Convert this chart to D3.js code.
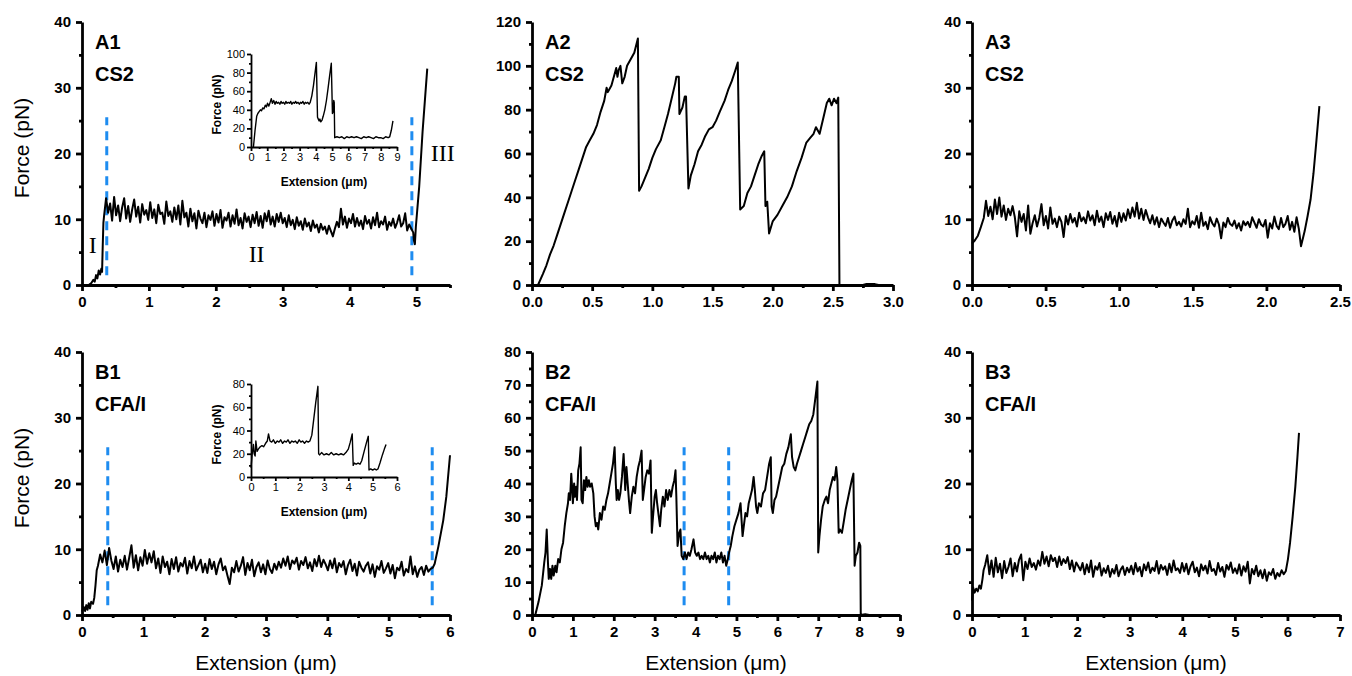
<!DOCTYPE html>
<html><head><meta charset="utf-8">
<script src="https://cdn.jsdelivr.net/npm/d3@7"></script>
<style>
body{margin:0;background:#fff;}
svg text{font-family:"Liberation Sans",Arial,sans-serif;}
</style></head><body>
<script>
// ---- A1 : CS2, main trace (pre-rise, plateau samples, final rise)
let a1Pre = [[0.10,0],[0.14,0.3],[0.17,0.8],[0.19,0.5],[0.21,1.5],[0.23,1.0],[0.25,2.2],[0.27,1.6],[0.29,2.5],[0.30,2.0],[0.31,6],[0.32,9.5]];
let a1Range = [0.33, 4.95];
let a1Plateau = [10.5,13.2,11.0,
 12.4,9.8,13.4,10.6,12.1,9.7,11.8,13.2,10.1,12.0,9.6,11.5,13.0,10.4,11.9,9.5,12.3,10.7,11.4,9.9,
 12.6,10.2,11.5,9.4,12.2,10.8,11.0,9.3,12.7,10.5,11.2,9.6,11.8,10.0,12.1,9.2,
 12.8,10.3,11.0,8.9,11.6,9.7,10.9,8.6,11.3,10.1,9.4,11.0,8.8,10.6,9.9,11.2,9.0,
 10.8,9.5,11.4,8.7,10.3,9.8,11.0,8.9,10.6,9.3,11.5,9.1,10.2,8.6,10.9,9.6,10.4,
 8.8,10.7,9.4,11.1,9.0,10.5,8.7,10.9,9.7,11.3,9.2,10.4,8.9,10.8,9.6,11.0,9.4,
 10.2,8.8,10.6,9.1,9.9,8.5,10.3,9.0,9.7,8.4,10.1,8.9,9.5,8.2,9.8,8.7,9.2,
 8.0,9.3,8.4,8.9,7.8,9.0,8.2,7.4,8.6,9.6,
 8.8,11.6,9.2,10.4,8.7,10.1,9.4,10.8,8.9,
 10.2,9.0,9.8,8.5,10.5,9.3,9.9,8.6,10.3,9.1,11.0,8.8,9.7,9.2,10.4,8.4,9.6,9.0,10.1,8.7,9.5,10.6,8.9,9.4,10.9,8.3,9.2,8.6,8.0];
let a1Post = [[4.96,6.8],[4.975,6.2],[4.99,8.9],[5.04,15],[5.09,23.3],[5.16,32.9]];
let a1Dash = [0.37, 4.93];
let a1Roman = [["I",0.16,6.1],["II",2.61,4.7],["III",5.39,20.2]];

// A1 inset
let a1Inset = [[0.15,0],[0.25,18],[0.35,33],[0.42,36],[0.5,38],[0.58,40],[0.65,39],[0.72,42],[0.8,41],[0.88,45],[0.95,43],[1.02,47],[1.1,44],[1.18,48],[1.25,52],[1.32,47],[1.4,50],[1.48,46],[1.55,49],[1.62,47],[1.7,48],[1.78,46],[1.85,49],[1.92,47],[2.0,48],[2.08,46],[2.15,49],[2.22,47],[2.3,48],[2.38,47],[2.45,49],[2.52,46],[2.6,48],[2.68,47],[2.75,49],[2.82,47],[2.9,48],[2.98,46],[3.05,48],[3.12,47],[3.2,49],[3.28,46],[3.35,48],[3.42,47],[3.5,48],[3.58,46],[3.65,48],[3.75,55],[3.85,66],[3.95,80],[4.03,91],[4.1,32],[4.15,30],[4.2,28],[4.25,30],[4.3,27],[4.38,29],[4.45,33],[4.55,40],[4.65,50],[4.75,63],[4.85,77],[4.95,90],[5.02,36],[5.07,38],[5.1,50],[5.13,48],[5.16,10],[5.3,11],[5.45,10],[5.6,11],[5.75,9],[5.9,11],[6.05,10],[6.2,11],[6.35,10],[6.5,11],[6.65,10],[6.8,9],[6.95,11],[7.1,10],[7.25,11],[7.4,10],[7.55,9],[7.7,11],[7.85,10],[8.0,10],[8.15,9],[8.3,11],[8.45,10],[8.55,11],[8.65,18],[8.75,28]];

// ---- A2 : CS2
let a2Trace = [[0.05,0],[0.09,5],[0.12,9],[0.15,14],[0.18,18],[0.21,23],[0.24,28],[0.27,33],[0.3,38],[0.33,43],[0.36,48],[0.39,53],[0.42,58],[0.45,63],[0.48,66],[0.51,69],[0.54,73],[0.57,79],[0.6,84],[0.62,90],[0.63,88],[0.66,91],[0.69,97],[0.7,99],[0.71,95],[0.72,98],[0.735,100],[0.75,92],[0.77,95],[0.79,100],[0.82,103],[0.85,106],[0.88,112.5],[0.89,43],[0.91,45],[0.94,49],[0.97,53],[1.0,58],[1.03,62],[1.07,66],[1.1,72],[1.13,78],[1.16,85],[1.19,92],[1.2,95],[1.22,95],[1.225,78],[1.25,81],[1.27,86],[1.28,86],[1.3,44],[1.32,50],[1.35,55],[1.38,61],[1.41,64],[1.44,68],[1.47,71],[1.5,72],[1.53,75],[1.56,79],[1.6,84],[1.63,89],[1.66,93],[1.69,98],[1.71,101.5],[1.73,34.5],[1.76,36],[1.79,42],[1.82,45],[1.85,50],[1.88,55],[1.91,59],[1.93,61],[1.94,36],[1.955,38],[1.97,23.5],[2.0,29],[2.04,32],[2.08,36],[2.12,40],[2.16,45],[2.2,52],[2.24,58],[2.28,65],[2.31,67],[2.34,69],[2.36,72],[2.39,69],[2.42,76],[2.45,83],[2.47,85],[2.49,82],[2.51,85],[2.53,83],[2.545,85.5],[2.555,0],[2.75,0],[2.78,0.5],[2.85,0.4],[2.88,0]];

// ---- A3 : CS2
let a3Pre = [[0,6.3],[0.02,6.8],[0.04,7.5],[0.06,8.8]];
let a3Range = [0.08, 2.22];
let a3Plateau = [10.2,12.8,10.5,11.9,10.0,13.0,10.8,13.3,10.4,12.1,9.9,11.6,10.6,12.0,10.3,
 7.4,11.2,9.6,10.8,8.3,12.1,7.8,9.4,10.6,8.9,10.2,12.3,9.1,10.5,8.6,11.8,9.3,10.1,8.8,10.4,
 9.6,7.3,10.5,9.2,10.8,9.5,10.2,8.9,11.0,9.7,10.3,9.4,11.2,9.8,10.6,9.1,11.3,9.6,10.4,8.8,10.9,9.9,11.1,9.3,10.5,8.9,11.0,
 9.6,10.9,9.8,11.5,10.2,11.8,10.4,12.5,10.1,11.6,9.9,11.4,10.3,
 9.4,10.6,9.2,10.3,8.8,10.1,9.5,9.0,10.2,8.7,9.8,10.4,9.1,9.6,8.9,10.0,9.3,11.6,8.8,9.7,
 9.2,10.5,8.7,11.0,9.0,9.6,8.5,10.3,9.4,8.9,10.1,9.2,7.1,9.5,8.8,10.2,9.3,9.0,9.8,8.6,9.4,8.3,9.7,9.1,9.6,8.8,10.3,9.5,8.7,10.0,9.2,8.9,9.9,7.2,9.4,8.6,10.4,9.0,8.5,10.2,8.8,9.3,10.5,8.4,9.6,8.1,10.3,8.6];
let a3Post = [[2.235,5.9],[2.26,8.2],[2.28,10.5],[2.3,13],[2.32,17],[2.34,22],[2.36,27.2]];

// ---- B1 : CFA/I
let b1Pre = [[0,0.5],[0.03,1.2],[0.05,0.6],[0.07,1.5],[0.09,0.8],[0.11,1.8],[0.13,1.0],[0.15,2.0],[0.18,1.7],[0.2,2.6],[0.22,4.5],[0.24,6.8]];
let b1Range = [0.26, 5.72];
let b1Plateau = [7.5,9.2,8.0,9.8,7.6,10.2,8.3,
 7.0,8.9,6.6,8.4,7.3,9.0,6.9,
 8.7,10.6,7.2,9.1,6.8,8.8,7.5,9.9,7.8,9.4,8.0,9.7,
 7.1,8.6,6.4,8.9,7.3,8.1,6.2,8.5,7.0,8.8,6.6,7.9,7.4,8.7,6.3,8.2,7.1,8.9,6.8,7.6,8.4,6.5,
 7.8,6.4,8.5,7.0,8.1,6.2,7.7,8.6,6.8,7.4,6.0,4.7,7.2,6.5,
 8.2,6.6,7.5,8.8,6.1,7.9,6.8,8.4,5.9,7.3,8.0,6.5,7.7,6.2,8.3,7.0,6.4,7.8,6.9,
 8.1,7.2,8.6,7.5,8.9,7.0,8.3,7.8,8.7,6.9,8.2,7.6,8.8,7.1,8.0,6.7,8.5,7.4,9.0,7.3,8.4,7.7,
 6.8,8.3,7.1,8.6,6.5,7.9,7.3,8.2,6.2,7.6,8.4,6.7,7.8,6.0,8.1,7.2,6.6,7.5,8.0,6.3,7.7,5.8,7.4,6.9,8.2,6.4,7.1,7.9,
 6.3,7.6,5.6,7.2,6.8,8.1,6.0,7.0,6.5,8.9,6.2,7.4,5.8,6.9,7.3,6.1,7.5,6.6,7.0,7.2];
let b1Post = [[5.75,7.8],[5.81,10.4],[5.89,14.4],[5.94,18],[6.0,24.3]];
let b1Dash = [0.42, 5.71];

// B1 inset
let b1Inset = [[0.0,8],[0.05,20],[0.1,28],[0.13,20],[0.17,18],[0.2,31],[0.25,22],[0.3,24],[0.38,26],[0.45,27],[0.52,26],[0.6,29],[0.67,31],[0.72,37],[0.78,31],[0.85,30],[0.92,32],[1.0,29],[1.08,31],[1.15,30],[1.22,32],[1.3,29],[1.38,31],[1.45,30],[1.52,32],[1.6,29],[1.68,31],[1.75,30],[1.82,31],[1.9,29],[1.98,32],[2.05,30],[2.12,31],[2.2,29],[2.28,31],[2.35,30],[2.42,31],[2.5,36],[2.58,50],[2.66,64],[2.75,78],[2.78,20],[2.82,19],[2.9,21],[3.0,19],[3.1,20],[3.2,19],[3.3,21],[3.4,19],[3.5,20],[3.6,19],[3.7,20],[3.8,19],[3.9,21],[4.0,24],[4.08,30],[4.16,37],[4.2,10],[4.25,12],[4.32,11],[4.4,12],[4.48,11],[4.55,14],[4.65,22],[4.75,30],[4.82,35],[4.85,6],[4.92,7],[5.0,6],[5.08,7],[5.15,6],[5.22,7],[5.3,12],[5.4,19],[5.48,24],[5.55,28]];

// ---- B2 : CFA/I
let b2Trace = [[0.08,0],[0.16,4],[0.24,9],[0.3,16],[0.33,19],[0.36,26],[0.39,16],[0.41,11],[0.44,14],[0.47,11],[0.5,15],[0.53,12],[0.57,15],[0.6,13],[0.64,17],[0.68,16],[0.72,20],[0.76,22],[0.8,27],[0.84,31],[0.88,34],[0.9,37],[0.93,35],[0.96,43],[0.98,39],[1.0,34],[1.03,40],[1.05,36],[1.08,39],[1.1,35],[1.13,44],[1.16,46],[1.19,51],[1.21,35],[1.24,34],[1.27,41],[1.3,38],[1.33,42],[1.36,39],[1.39,41],[1.42,39],[1.46,40],[1.5,37],[1.53,30],[1.56,27],[1.59,28],[1.62,26],[1.66,31],[1.7,29],[1.74,33],[1.78,32],[1.82,35],[1.86,37],[1.9,40],[1.94,43],[1.98,46],[2.02,51],[2.05,40],[2.07,35],[2.1,38],[2.13,35],[2.16,37],[2.2,42],[2.24,49],[2.26,44],[2.28,38],[2.31,45],[2.34,40],[2.37,35],[2.4,31],[2.44,36],[2.48,39],[2.52,37],[2.56,42],[2.6,45],[2.64,47],[2.68,50],[2.71,35],[2.74,38],[2.78,42],[2.82,44],[2.86,43],[2.9,47],[2.93,25],[2.96,30],[3.0,36],[3.03,38],[3.06,34],[3.1,30],[3.13,27],[3.16,32],[3.2,36],[3.24,33],[3.28,38],[3.32,35],[3.36,38],[3.4,36],[3.44,39],[3.48,41],[3.51,44],[3.53,36],[3.56,21],[3.6,25],[3.63,26],[3.66,18],[3.7,17],[3.74,19],[3.78,17],[3.82,19],[3.86,18],[3.9,20],[3.95,23],[3.99,19],[4.03,18],[4.07,19],[4.11,17],[4.15,18],[4.19,17],[4.23,19],[4.27,17],[4.31,18],[4.35,16],[4.39,18],[4.43,17],[4.47,19],[4.51,16],[4.55,18],[4.59,17],[4.63,19],[4.67,16],[4.71,18],[4.75,15],[4.79,17],[4.82,19],[4.86,21],[4.9,24],[4.95,27],[5.0,29],[5.05,31],[5.1,34],[5.13,28],[5.15,24],[5.18,27],[5.22,31],[5.26,30],[5.3,34],[5.34,36],[5.38,38],[5.42,42],[5.45,38],[5.48,33],[5.51,31],[5.55,34],[5.6,33],[5.65,37],[5.7,38],[5.75,42],[5.8,46],[5.84,48],[5.86,33],[5.89,31],[5.93,35],[5.97,36],[6.02,39],[6.07,42],[6.12,45],[6.17,46],[6.22,49],[6.27,51],[6.33,55],[6.36,48],[6.4,45],[6.44,44],[6.48,46],[6.53,48],[6.58,50],[6.63,52],[6.68,54],[6.73,56],[6.78,58],[6.83,59],[6.88,61],[6.93,66],[6.98,71],[7.0,19],[7.03,24],[7.07,29],[7.11,33],[7.16,35],[7.2,36],[7.24,34],[7.28,38],[7.32,40],[7.36,42],[7.4,41],[7.44,45],[7.47,41],[7.5,25],[7.53,26],[7.58,25],[7.62,28],[7.67,32],[7.72,35],[7.77,38],[7.82,41],[7.86,43],[7.89,15],[7.92,18],[7.96,19],[8.0,22],[8.03,21],[8.04,0],[8.15,0.2],[8.25,0]];
let b2Dash = [3.72, 4.81];

// ---- B3 : CFA/I
let b3Pre = [[0,2.2],[0.02,4.2],[0.05,3.4],[0.08,4.0],[0.11,3.6],[0.14,4.5],[0.17,4.0],[0.2,5.5],[0.22,6.8]];
let b3Range = [0.25, 5.97];
let b3Plateau = [7.6,9.1,6.2,8.3,5.8,8.7,6.5,
 7.8,5.6,8.2,6.4,7.3,8.6,5.9,7.9,6.6,8.4,9.2,5.3,
 8.1,7.0,8.6,7.3,7.9,6.9,8.3,7.5,
 9.6,7.8,8.9,7.4,9.1,8.2,8.7,7.3,8.9,7.6,8.5,7.9,
 8.8,7.0,8.3,6.6,8.0,7.4,6.8,7.9,
 6.2,7.7,6.5,8.3,5.8,7.4,6.9,7.9,6.0,7.1,
 6.4,7.5,5.8,7.0,6.3,7.6,5.9,6.9,7.4,6.1,7.2,6.5,
 7.5,6.2,7.9,6.6,7.3,5.9,7.7,6.8,8.0,6.4,7.2,6.7,8.2,6.3,7.6,6.9,7.4,6.1,7.8,6.5,8.3,6.8,7.1,6.4,7.9,
 6.6,7.8,6.2,7.4,8.1,6.5,7.2,5.9,7.7,6.8,7.5,6.3,8.2,6.7,7.0,6.1,7.9,6.6,7.3,5.8,7.6,6.9,8.0,6.4,7.1,
 6.3,7.7,6.0,7.4,6.6,8.1,4.8,7.0,6.2,7.5,5.9,6.8,
 5.6,6.9,5.2,6.5,6.1,7.0,5.5,6.4,5.9,6.8,6.2,6.7];
let b3Post = [[6.01,8.5],[6.05,11],[6.1,15],[6.15,19.5],[6.19,24],[6.22,27.7]];

// tick values
let ticks10 = [0,10,20,30,40];
let a1XTicks = [0,1,2,3,4,5], a2YTicks = [0,20,40,60,80,100,120];
let halfTicks = [0,0.5,1.0,1.5,2.0,2.5], a2XTicks = [0,0.5,1.0,1.5,2.0,2.5,3.0];
let b1XTicks = [0,1,2,3,4,5,6], b2XTicks = [0,1,2,3,4,5,6,7,8,9], b2YTicks = [0,10,20,30,40,50,60,70,80];
let b3XTicks = [0,1,2,3,4,5,6,7];
let inA1X = [0,1,2,3,4,5,6,7,8,9], inA1Y = [0,20,40,60,80,100];
let inB1X = [0,1,2,3,4,5,6], inB1Y = [0,20,40,60,80];

const W = 1352, H = 676;
var svg = d3.select("body").append("svg").attr("width", W).attr("height", H);

function series(pre, vals, range, post) {
  var pts = pre.slice(), n = vals.length;
  vals.forEach(function(v, i) { pts.push([range[0] + (range[1] - range[0]) * i / (n - 1), v]) });
  return pts.concat(post);
}

function midpoints(t, max) {
  var step = t[1] - t[0], out = [];
  for (var v = t[0] + step / 2; v <= max + 1e-9; v += step) out.push(v);
  return out;
}

function panel(o) {
  var x = d3.scaleLinear().domain(o.xd).range(o.xr),
      y = d3.scaleLinear().domain(o.yd).range(o.yr);
  var ins = !!o.inset;
  var fs = ins ? 11 : 15, big = ins ? 4 : 6, small = ins ? 2 : 3, sw = ins ? 1.8 : 2.8;
  var fmt = o.fmt || d3.format("d");

  var xMin = svg.append("g").attr("transform", "translate(0," + o.yr[0] + ")")
    .call(d3.axisBottom(x).tickValues(midpoints(o.xt, o.xd[1])).tickSize(small).tickFormat(""));
  xMin.select(".domain").remove();
  var yMin = svg.append("g").attr("transform", "translate(" + o.xr[0] + ",0)")
    .call(d3.axisLeft(y).tickValues(midpoints(o.yt, o.yd[1] - 0.001)).tickSize(small).tickFormat(""));
  yMin.select(".domain").remove();

  var xa = svg.append("g").attr("transform", "translate(0," + o.yr[0] + ")")
    .call(d3.axisBottom(x).tickValues(o.xt).tickSize(big).tickSizeOuter(0).tickPadding(ins ? 2 : 5).tickFormat(fmt));
  var ya = svg.append("g").attr("transform", "translate(" + o.xr[0] + ",0)")
    .call(d3.axisLeft(y).tickValues(o.yt).tickSize(big).tickSizeOuter(0).tickPadding(ins ? 2 : 5).tickFormat(d3.format("d")));
  [xa, ya, xMin, yMin].forEach(function(a) {
    a.attr("stroke-width", sw).attr("font-size", fs).attr("font-family", "Liberation Sans, Arial, sans-serif")
     .attr("font-weight", ins ? "normal" : "bold");
    a.selectAll("text").attr("fill", "#000");
    a.selectAll("line,path").attr("stroke", "#000");
  });

  if (o.dash) {
    o.dash.forEach(function(d) {
      svg.append("line").attr("x1", x(d)).attr("x2", x(d))
        .attr("y1", y(o.dashY[0])).attr("y2", y(o.dashY[1]))
        .attr("stroke", "#1e8cf0").attr("stroke-width", 3).attr("stroke-dasharray", "9,6");
    });
  }

  var line = d3.line().x(function(d) { return x(d[0]) }).y(function(d) { return y(d[1]) });
  svg.append("path").datum(o.data).attr("d", line)
    .attr("fill", "none").attr("stroke", "#000").attr("stroke-width", ins ? 1.4 : 2)
    .attr("stroke-linejoin", "round");

  if (o.label) {
    o.label.forEach(function(t, i) {
      svg.append("text").attr("x", o.xr[0] + 13).attr("y", o.yr[1] + 27 + i * 32)
        .attr("font-size", 20).attr("font-weight", "bold").text(t);
    });
  }
  if (o.roman) {
    o.roman.forEach(function(r) {
      svg.append("text").attr("x", x(r[1])).attr("y", y(r[2])).attr("dy", "0.35em")
        .attr("text-anchor", "middle").attr("font-size", 24)
        .style("font-family", "'Liberation Serif', 'Times New Roman', serif").text(r[0]);
    });
  }
  if (ins) {
    svg.append("text").attr("x", (o.xr[0] + o.xr[1]) / 2).attr("y", o.yr[0] + 39)
      .attr("text-anchor", "middle").attr("font-size", 12).attr("font-weight", "bold").text("Extension (\u03bcm)");
    svg.append("text").attr("transform", "translate(" + (o.xr[0] - 34) + "," + ((o.yr[0] + o.yr[1]) / 2 + 4) + ") rotate(-90)")
      .attr("dy", "0.35em").attr("text-anchor", "middle").attr("font-size", 12).attr("font-weight", "bold").text("Force (pN)");
  }
}

var top_ = [285, 22], bot = [615, 352];

panel({xd: [0, 5.5], xr: [82, 450], yd: [0, 40], yr: top_, xt: a1XTicks, yt: ticks10,
  data: series(a1Pre, a1Plateau, a1Range, a1Post), dash: a1Dash, dashY: [1.5, 25.5],
  label: ["A1", "CS2"], roman: a1Roman});
panel({xd: [0, 9], xr: [251, 397], yd: [0, 100], yr: [147, 54], xt: inA1X, yt: inA1Y, data: a1Inset, inset: true});
panel({xd: [0, 3], xr: [532, 893], yd: [0, 120], yr: top_, xt: a2XTicks, yt: a2YTicks,
  data: a2Trace, label: ["A2", "CS2"], fmt: d3.format(".1f")});
panel({xd: [0, 2.5], xr: [972, 1340], yd: [0, 40], yr: top_, xt: halfTicks, yt: ticks10,
  data: series(a3Pre, a3Plateau, a3Range, a3Post), label: ["A3", "CS2"], fmt: d3.format(".1f")});

panel({xd: [0, 6], xr: [82, 450], yd: [0, 40], yr: bot, xt: b1XTicks, yt: ticks10,
  data: series(b1Pre, b1Plateau, b1Range, b1Post), dash: b1Dash, dashY: [1.5, 25.5],
  label: ["B1", "CFA/I"]});
panel({xd: [0, 6], xr: [251, 397], yd: [0, 80], yr: [477, 384], xt: inB1X, yt: inB1Y, data: b1Inset, inset: true});
panel({xd: [0, 9], xr: [532, 900], yd: [0, 80], yr: bot, xt: b2XTicks, yt: b2YTicks,
  data: b2Trace, dash: b2Dash, dashY: [3, 51], label: ["B2", "CFA/I"]});
panel({xd: [0, 7], xr: [972, 1340], yd: [0, 40], yr: bot, xt: b3XTicks, yt: ticks10,
  data: series(b3Pre, b3Plateau, b3Range, b3Post), label: ["B3", "CFA/I"]});

// axis titles
[148, 478].forEach(function(cy) {
  svg.append("text").attr("transform", "translate(22," + cy + ") rotate(-90)").attr("dy", "0.35em")
    .attr("text-anchor", "middle").attr("font-size", 21).text("Force (pN)");
});
[[82, 450], [532, 900], [972, 1340]].forEach(function(r) {
  svg.append("text").attr("x", (r[0] + r[1]) / 2).attr("y", 670)
    .attr("text-anchor", "middle").attr("font-size", 21).text("Extension (\u03bcm)");
});
</script>
</body></html>
